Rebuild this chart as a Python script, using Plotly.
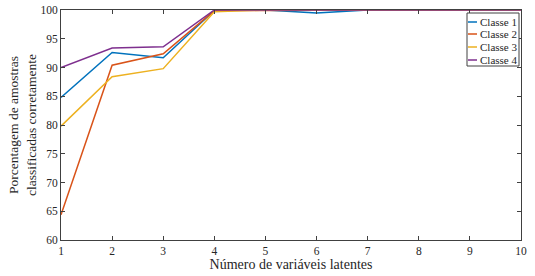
import plotly.graph_objects as go

x_vals = [1, 2, 3, 4, 5, 6, 7, 8, 9, 10]
classe1 = [84.8, 92.6, 91.7, 99.9, 100, 99.5, 100, 100, 100, 100]
classe2 = [64.4, 90.4, 92.4, 99.9, 99.9, 100, 100, 100, 100, 100]
classe3 = [79.8, 88.4, 89.8, 99.7, 100, 100, 100, 100, 100, 100]
classe4 = [90.0, 93.4, 93.6, 100, 100, 100, 100, 100, 100, 100]
names = ["Classe 1", "Classe 2", "Classe 3", "Classe 4"]
colors = ["#0072BD", "#D95319", "#EDB120", "#7E2F8E"]
x_ticks = list(range(1, 11))
y_ticks = list(range(60, 101, 5))

FONT = "Liberation Serif"
W, H = 535, 276
L, R, T, B = 61, 14, 10, 36
PW, PH = W - L - R, H - T - B


def px(x):
    return (x - L) / PW


def py(y):
    return 1 - (y - T) / PH


fig = go.Figure()
for name, ys, c in zip(names, [classe1, classe2, classe3, classe4], colors):
    fig.add_trace(go.Scatter(x=x_vals, y=ys, mode="lines", name=name,
                             line=dict(color=c, width=1.5), showlegend=False))

axis_common = dict(showgrid=False, zeroline=False, showline=True, mirror="ticks",
                   linecolor="#404040", linewidth=1, ticks="inside", ticklen=4,
                   tickcolor="#404040", automargin=False,
                   tickfont=dict(family=FONT, size=11.5, color="#262626"))

shapes = [dict(type="rect", xref="paper", yref="paper",
               x0=px(467), x1=px(519), y0=py(66), y1=py(13),
               line=dict(color="#404040", width=1), fillcolor="white", layer="above")]
annotations = []
row_y = [22, 34, 47, 60]
for name, c, ry in zip(names, colors, row_y):
    shapes.append(dict(type="line", xref="paper", yref="paper",
                       x0=px(468), x1=px(477), y0=py(ry), y1=py(ry),
                       line=dict(color=c, width=1.5), layer="above"))
    annotations.append(dict(text=name, xref="paper", yref="paper", x=px(477.5), y=py(ry),
                            xanchor="left", yanchor="middle", showarrow=False,
                            font=dict(family=FONT, size=11, color="#262626")))

annotations.append(dict(text="Porcentagem de amostras<br>classificadas corretamente",
                        xref="paper", yref="paper", x=px(22), y=0.5, textangle=-90,
                        xanchor="center", yanchor="middle", showarrow=False,
                        font=dict(family=FONT, size=13.5, color="#262626")))

fig.update_layout(
    width=W, height=H,
    margin=dict(l=L, r=R, t=T, b=B),
    paper_bgcolor="white", plot_bgcolor="white",
    font=dict(family=FONT, size=12, color="#262626"),
    xaxis=dict(range=[1, 10], tickvals=x_ticks, **axis_common,
               title=dict(text="Número de variáveis latentes", standoff=0,
                          font=dict(size=14, family=FONT))),
    yaxis=dict(range=[60, 100], tickvals=y_ticks, **axis_common),
    shapes=shapes,
    annotations=annotations,
    showlegend=False,
)

fig.write_html("out.html", config={"displayModeBar": False},
               post_script="document.body.style.margin='0';")
